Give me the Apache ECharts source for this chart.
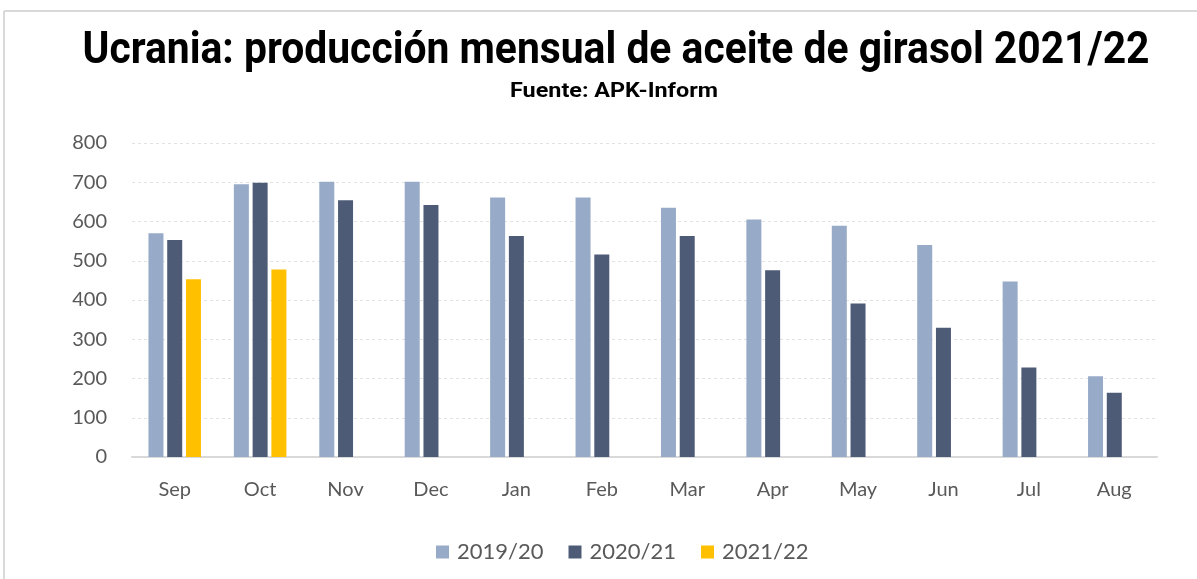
<!DOCTYPE html>
<html lang="es" style="height: 100%">
<head>
  <meta charset="utf-8">
</head>
<body style="height: 100%; margin: 0; background: #fff">
  <div id="container" style="width: 1197px; height: 579px"></div>
  <script type="text/javascript" src="https://fastly.jsdelivr.net/npm/echarts@6.0.0/dist/echarts.min.js"></script>
  <script type="text/javascript">
    // meses (campaña sep-ago)
    var months = ['Sep', 'Oct', 'Nov', 'Dec', 'Jan', 'Feb', 'Mar', 'Apr', 'May', 'Jun', 'Jul', 'Aug'];
    // producción, miles de t
    var prod1920 = [570, 695, 701, 701, 661, 661, 635, 605, 589, 540, 447, 206];
    var prod2021 = [553, 699, 654, 642, 563, 516, 563, 476, 391, 329, 228, 164];
    var prod2122 = [453, 478, null, null, null, null, null, null, null, null, null, null];

    var titleText = 'Ucrania: producción mensual de aceite de girasol 2021/22';
    var subText = 'Fuente: APK-Inform';

    // no hay fuente condensada: se mide el texto y se comprime en horizontal
    function squeeze(text, font, targetWidth) {
      var ctx = document.createElement('canvas').getContext('2d');
      ctx.font = font;
      return targetWidth / ctx.measureText(text).width;
    }
    var titleFont = 'bold 44px Roboto';
    var subFont = 'bold 21px Roboto';

    var dom = document.getElementById('container');
    var myChart = echarts.init(dom, null, { renderer: 'canvas' });

    var labelFont = { color: '#595959', fontSize: 20, fontFamily: 'Lato' };

    var option = {
      animation: false,
      graphic: [
        { type: 'line', shape: { x1: 4, y1: 11, x2: 1197, y2: 11 }, style: { stroke: '#d9d9d9', lineWidth: 2 } },
        { type: 'line', shape: { x1: 4, y1: 11, x2: 4, y2: 579 }, style: { stroke: '#d9d9d9', lineWidth: 2 } },
        {
          type: 'text', x: 616, y: 52, scaleX: squeeze(titleText, titleFont, 1067),
          style: { text: titleText, font: titleFont, fill: '#000', align: 'center', verticalAlign: 'middle' }
        },
        {
          type: 'text', x: 614, y: 92, scaleX: squeeze(subText, subFont, 208),
          style: { text: subText, font: subFont, fill: '#000', align: 'center', verticalAlign: 'middle' }
        }
      ],
      legend: {
        top: 536,
        left: 431,
        itemWidth: 13,
        itemHeight: 13,
        itemGap: 25,
        icon: 'rect',
        textStyle: { color: '#595959', fontSize: 22, fontFamily: 'Lato', padding: [0, 0, 0, 3] }
      },
      grid: { left: 132, right: 40, top: 143, bottom: 122 },
      xAxis: {
        type: 'category',
        data: months,
        axisLine: { lineStyle: { color: '#d9d9d9', width: 2 } },
        axisTick: { length: 6, lineStyle: { color: '#d9d9d9', width: 2 } },
        axisLabel: Object.assign({ margin: 23 }, labelFont)
      },
      yAxis: {
        type: 'value',
        min: 0,
        max: 800,
        interval: 100,
        axisLabel: Object.assign({ margin: 25 }, labelFont),
        splitLine: { lineStyle: { color: '#e3e3e3', type: [3, 3] } }
      },
      series: [
        { name: '2019/20', type: 'bar', data: prod1920, barWidth: 15, barGap: '25%', itemStyle: { color: '#97abc8' } },
        { name: '2020/21', type: 'bar', data: prod2021, barWidth: 15, barGap: '25%', itemStyle: { color: '#4e5b77' } },
        { name: '2021/22', type: 'bar', data: prod2122, barWidth: 15, barGap: '25%', itemStyle: { color: '#ffc000' } }
      ]
    };

    myChart.setOption(option);
    window.addEventListener('resize', myChart.resize);
  </script>
</body>
</html>
